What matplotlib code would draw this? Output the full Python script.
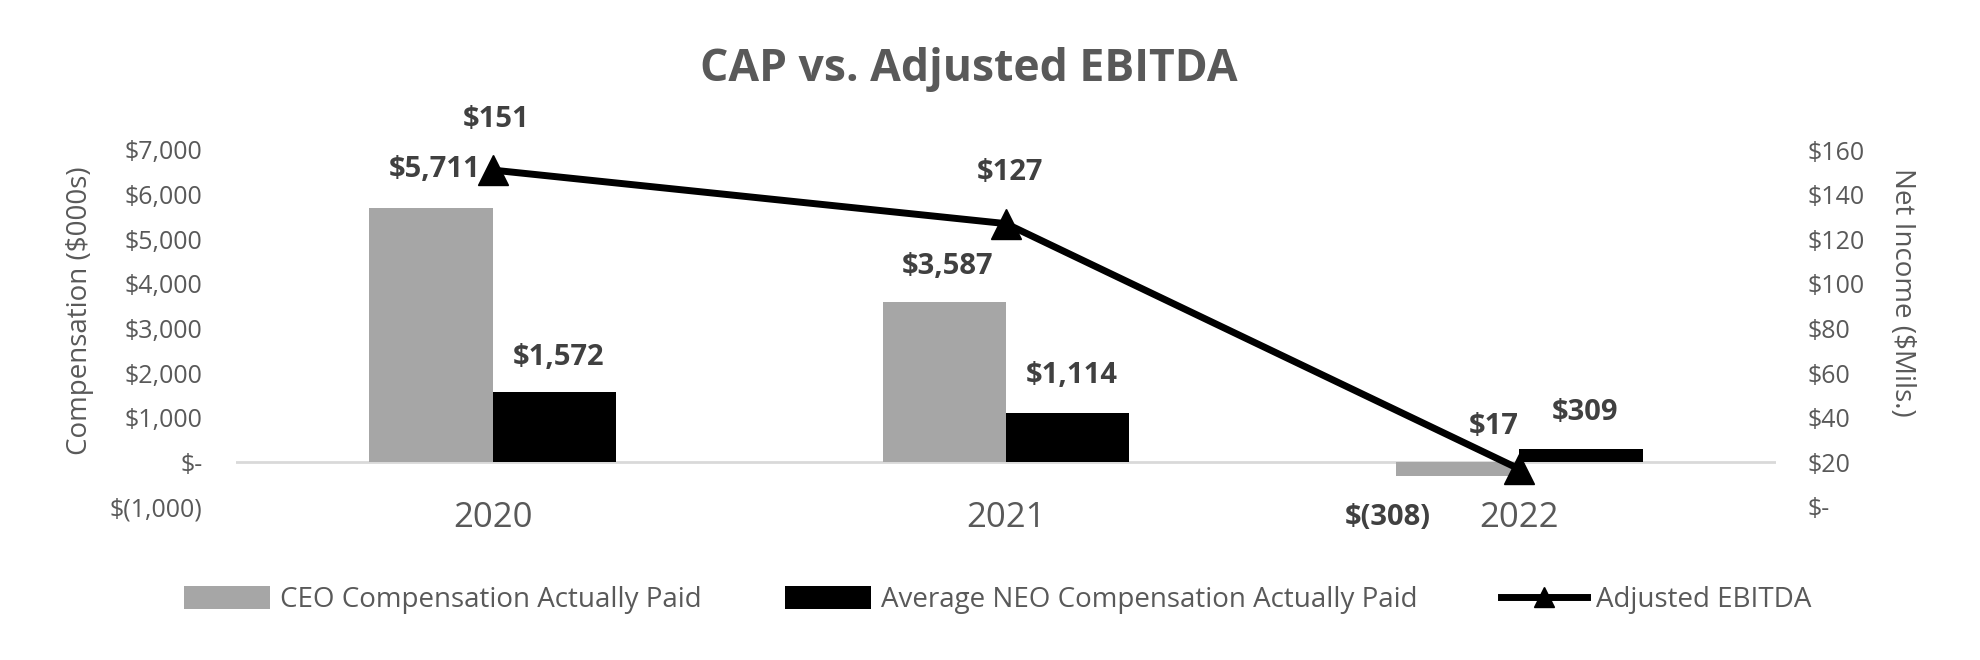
import matplotlib
matplotlib.use("Agg")
import matplotlib.pyplot as plt
from matplotlib.lines import Line2D
from matplotlib.transforms import blended_transform_factory

plt.rcParams['font.family'] = ['Open Sans', 'DejaVu Sans']

# data
years = ['2020', '2021', '2022']
ceo_cap = [5711, 3587, -308]
neo_cap = [1572, 1114, 309]
ebitda = [151, 127, 17]

left_ticks = [-1000, 0, 1000, 2000, 3000, 4000, 5000, 6000, 7000]
right_ticks = [0, 20, 40, 60, 80, 100, 120, 140, 160]


def money(v):
    if v == 0:
        return '$-'
    if v < 0:
        return '$({:,})'.format(-v)
    return '${:,}'.format(v)


tick_col = '#595959'
lab_col = '#404040'

fig = plt.figure(figsize=(19.8, 6.6), dpi=100)
ax = fig.add_axes([236 / 1980, 1 - 507 / 660, (1776 - 236) / 1980, 357 / 660])
ax2 = ax.twinx()

x = list(range(len(years)))
w = 0.24
ceo_x = [i - w / 2 for i in x]
neo_x = [i + w / 2 for i in x]

ax.axhline(0, color='#d9d9d9', lw=2, zorder=1)
b1 = ax.bar(ceo_x, ceo_cap, w, color='#a6a6a6', zorder=2,
            label='CEO Compensation Actually Paid')
b2 = ax.bar(neo_x, neo_cap, w, color='black', zorder=2,
            label='Average NEO Compensation Actually Paid')
ln, = ax2.plot(x, ebitda, color='black', lw=5, marker='^', markersize=22,
               label='Adjusted EBITDA', zorder=3)

ax.set_xlim(-0.5, 2.5)
ax.set_ylim(-1000, 7000)
ax2.set_ylim(0, 160)

ax.set_yticks(left_ticks)
ax.set_yticklabels([money(v) for v in left_ticks])
ax2.set_yticks(right_ticks)
ax2.set_yticklabels([money(v) for v in right_ticks])
ax.tick_params(axis='y', length=0, pad=24, labelsize=18, labelcolor=tick_col)
ax2.tick_params(axis='y', length=0, pad=23, labelsize=18, labelcolor=tick_col)
ax.set_xticks([])
for a in (ax, ax2):
    for s in a.spines.values():
        s.set_visible(False)

# category labels
tr = blended_transform_factory(ax.transData, ax.transAxes)
for i, yr in zip(x, years):
    ax.text(i, -11 / 357, yr, transform=tr, ha='center', va='center',
            fontsize=25, color=tick_col)

# data labels (offsets in pixels from the mark)
ceo_off = [(4, 38), (3, 36), (-70, -41)]
neo_off = [(4, 35), (4, 37), (4, 36)]
ebit_off = [(3, 51), (4, 51), (-26, 43)]
lkw = dict(textcoords='offset pixels', ha='center', va='center',
           fontsize=21, fontweight='bold', color=lab_col)
for xi, v, o in zip(ceo_x, ceo_cap, ceo_off):
    ax.annotate(money(v), (xi, v), xytext=o, **lkw)
for xi, v, o in zip(neo_x, neo_cap, neo_off):
    ax.annotate(money(v), (xi, v), xytext=o, **lkw)
for xi, v, o in zip(x, ebitda, ebit_off):
    ax2.annotate(money(v), (xi, v), xytext=o, **lkw)

fig.text(969 / 1980, 1 - 69 / 660, 'CAP vs. Adjusted EBITDA', ha='center',
         va='center', fontsize=32, fontweight='bold', color=tick_col)
fig.text(80 / 1980, 0.529, 'Compensation ($000s)', rotation=90, ha='center',
         va='center', fontsize=20, color=tick_col)
fig.text(1902 / 1980, 0.557, 'Net Income ($Mils.)', rotation=270, ha='center',
         va='center', fontsize=20, color=tick_col)

ln_handle = Line2D([], [], color='black', lw=5, marker='^', markersize=15)
fig.legend([b1, b2, ln_handle],
           [b1.get_label(), b2.get_label(), ln.get_label()],
           loc='center', bbox_to_anchor=(0.504, 1 - 600 / 660), ncol=3,
           frameon=False, fontsize=20, labelcolor=tick_col, handlelength=3.1,
           handleheight=0.86, handletextpad=0.35, columnspacing=3.0)

fig.savefig('out.png', dpi=100)
